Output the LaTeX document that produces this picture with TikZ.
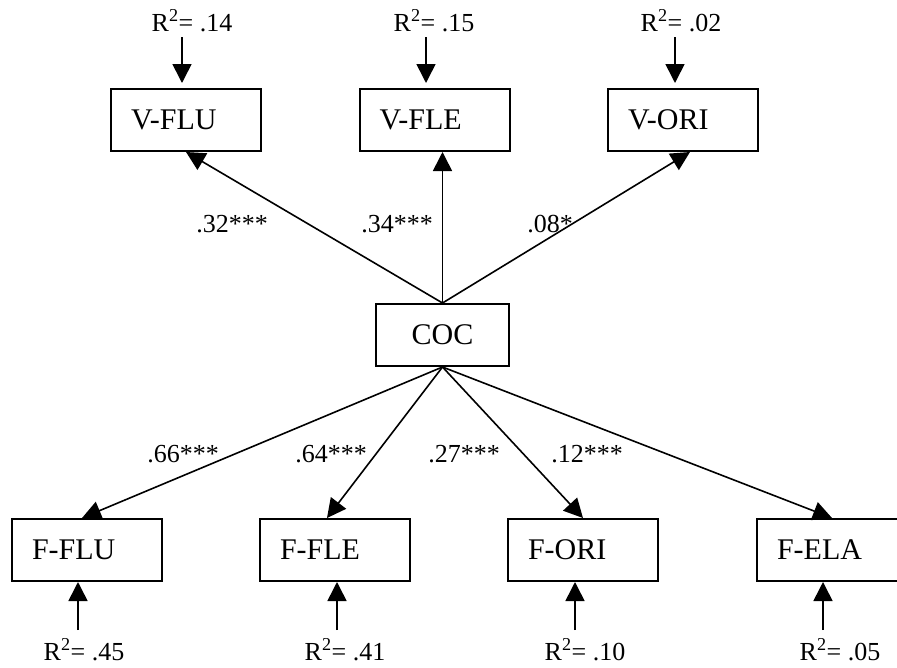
\documentclass[tikz,border=0pt]{standalone}
\usepackage{fontspec}
\setmainfont{Liberation Serif}
\usetikzlibrary{arrows.meta}

\newcommand{\boxfont}{\fontsize{30}{34}\selectfont}
\newcommand{\labfont}{\fontsize{26}{30}\selectfont}

\begin{document}
\begin{tikzpicture}[
    x=1pt, y=-1pt,
    var/.style={draw, line width=2pt, minimum height=62pt, text width=110pt,
                inner xsep=20pt, align=left, font=\boxfont},
    coef/.style={anchor=base, inner sep=0pt, font=\labfont},
    arrow/.style={-{Triangle[length=19pt, width=19pt]}, line width=1.6pt}
]
    \useasboundingbox (0,0) rectangle (897,667);

    % central construct
    \node[var, text width=93pt, align=center] (coc) at (442.5,335) {COC};

    % verbal creativity
    \node[var] (vflu) at (186,120) {V-FLU};
    \node[var] (vfle) at (434.5,120) {V-FLE};
    \node[var] (vori) at (683,120) {V-ORI};

    % figural creativity
    \node[var] (fflu) at (87,550) {F-FLU};
    \node[var] (ffle) at (335,550) {F-FLE};
    \node[var] (fori) at (583,550) {F-ORI};
    \node[var] (fela) at (832,550) {F-ELA};

    % paths
    \draw[arrow] (coc.north) -- (vflu.south);
    \draw[arrow] (coc.north) -- (coc.north |- vfle.south);
    \draw[arrow] (coc.north) -- ([xshift=7pt]vori.south);
    \draw[arrow] (coc.south) -- ([xshift=-5pt]fflu.north);
    \draw[arrow] (coc.south) -- ([xshift=-8pt]ffle.north);
    \draw[arrow] (coc.south) -- (fori.north);
    \draw[arrow] (coc.south) -- (fela.north);

    \node[coef] (c1) at (232,232) {.32***};
    \node[coef] (c2) at (397,232) {.34***};
    \node[coef] (c3) at (550,232) {.08*};
    \node[coef] (c4) at (183,462) {.66***};
    \node[coef] (c5) at (331,462) {.64***};
    \node[coef] (c6) at (464,462) {.27***};
    \node[coef] (c7) at (587,462) {.12***};

    % explained variance
    \node[coef] (r1) at (192,31) {R\textsuperscript{2}= .14};
    \node[coef] (r2) at (434,31) {R\textsuperscript{2}= .15};
    \node[coef] (r3) at (681,31) {R\textsuperscript{2}= .02};
    \node[coef] (r4) at (84,660) {R\textsuperscript{2}= .45};
    \node[coef] (r5) at (345,660) {R\textsuperscript{2}= .41};
    \node[coef] (r6) at (585,660) {R\textsuperscript{2}= .10};
    \node[coef] (r7) at (840,660) {R\textsuperscript{2}= .05};

    \coordinate (e1) at (182,37);
    \coordinate (e2) at (426,37);
    \coordinate (e3) at (675,37);
    \coordinate (e4) at (78,630);
    \coordinate (e5) at (337,630);
    \coordinate (e6) at (575,630);
    \coordinate (e7) at (823,630);

    \draw[arrow, shorten >=5pt] (e1) -- (e1 |- vflu.north);
    \draw[arrow, shorten >=5pt] (e2) -- (e2 |- vfle.north);
    \draw[arrow, shorten >=5pt] (e3) -- (e3 |- vori.north);
    \draw[arrow] (e4) -- (e4 |- fflu.south);
    \draw[arrow] (e5) -- (e5 |- ffle.south);
    \draw[arrow] (e6) -- (e6 |- fori.south);
    \draw[arrow] (e7) -- (e7 |- fela.south);
\end{tikzpicture}
\end{document}
